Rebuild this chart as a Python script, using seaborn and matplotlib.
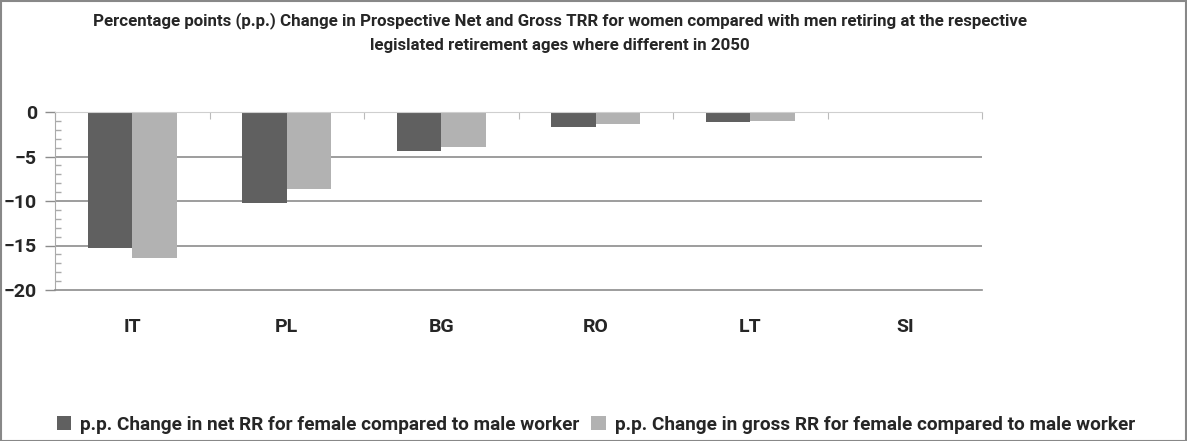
import numpy as np
import pandas as pd
import matplotlib
matplotlib.use('Agg')
import matplotlib.pyplot as plt
from matplotlib.patches import Rectangle
from matplotlib.ticker import MultipleLocator
import seaborn as sns

countries = ['IT', 'PL', 'BG', 'RO', 'LT', 'SI']
net_change = [-15.3, -10.2, -4.4, -1.7, -1.1, 0.0]
gross_change = [-16.4, -8.6, -3.9, -1.3, -1.0, 0.0]
series_names = ['p.p. Change in net RR for female compared to male worker',
                'p.p. Change in gross RR for female compared to male worker']
title = ('Percentage points (p.p.) Change in Prospective Net and Gross TRR for women compared with men retiring at the respective\n'
         'legislated retirement ages where different in 2050')

df = pd.DataFrame({'country': countries * 2,
                   'value': net_change + gross_change,
                   'series': [series_names[0]] * 6 + [series_names[1]] * 6})

sns.set_style('white')
plt.rcParams['font.family'] = ['Roboto', 'DejaVu Sans']
plt.rcParams['font.weight'] = 'bold'

W, H = 1187, 441
fig = plt.figure(figsize=(W / 100, H / 100), dpi=100)
ax = fig.add_axes([55 / W, 1 - 290 / H, (982 - 55) / W, (290 - 112) / H])

sns.barplot(data=df, x='country', y='value', hue='series', order=countries,
            palette=['#606060', '#b2b2b2'], width=0.576, gap=0, saturation=1,
            errorbar=None, ax=ax, legend=True, linewidth=0)

ax.set_ylim(-20, 0)
ax.set_xlim(-0.5, 5.5)
ax.set_yticks([0, -5, -10, -15, -20])
ax.yaxis.set_minor_locator(MultipleLocator(1))
ax.grid(False)
for v in [-5, -10, -15]:
    ax.axhline(v, color='#8c8c8c', lw=1.2, zorder=0)

ax.tick_params(axis='y', which='major', direction='out', length=7, width=1,
               color='#8c8c8c', labelsize=14, pad=6, left=True)
ax.tick_params(axis='y', which='minor', direction='in', length=4, width=1,
               color='#aaaaaa', left=True)
ax.tick_params(axis='x', length=0, labelsize=14, pad=20)
for lab in ax.get_yticklabels() + ax.get_xticklabels():
    lab.set_fontweight('bold')
ax.set_xlabel('')
ax.set_ylabel('')

ax.spines['right'].set_visible(False)
ax.spines['left'].set_color('#aaaaaa')
ax.spines['top'].set_color('#cfcfcf')
ax.spines['bottom'].set_color('#8c8c8c')
ax.spines['bottom'].set_linewidth(1.2)

# category separators on the zero line
sec = ax.secondary_xaxis('top')
sec.set_xticks(np.arange(-0.5, 6, 1))
sec.set_xticklabels([])
sec.tick_params(direction='in', length=5, color='#bbbbbb')
sec.spines['top'].set_visible(False)

leg = ax.get_legend()
handles = leg.legend_handles
leg.remove()
fig.legend(handles, series_names, loc='center', bbox_to_anchor=(596 / W, 1 - 425 / H),
           ncol=2, frameon=False, handlelength=0.75, handleheight=0.75,
           handletextpad=0.5, columnspacing=0.6, prop={'weight': 'bold', 'size': 13.7})

fig.text(560 / W, 1 - 12 / H, title, ha='center', va='top', fontsize=12.2,
         fontweight='bold', linespacing=1.75)

fig.patches.append(Rectangle((0.5 / W, 0.5 / H), 1 - 1.5 / W, 1 - 1.5 / H,
                             transform=fig.transFigure, fill=False,
                             edgecolor='#888888', lw=1.5))

fig.savefig('out.png', dpi=100)
